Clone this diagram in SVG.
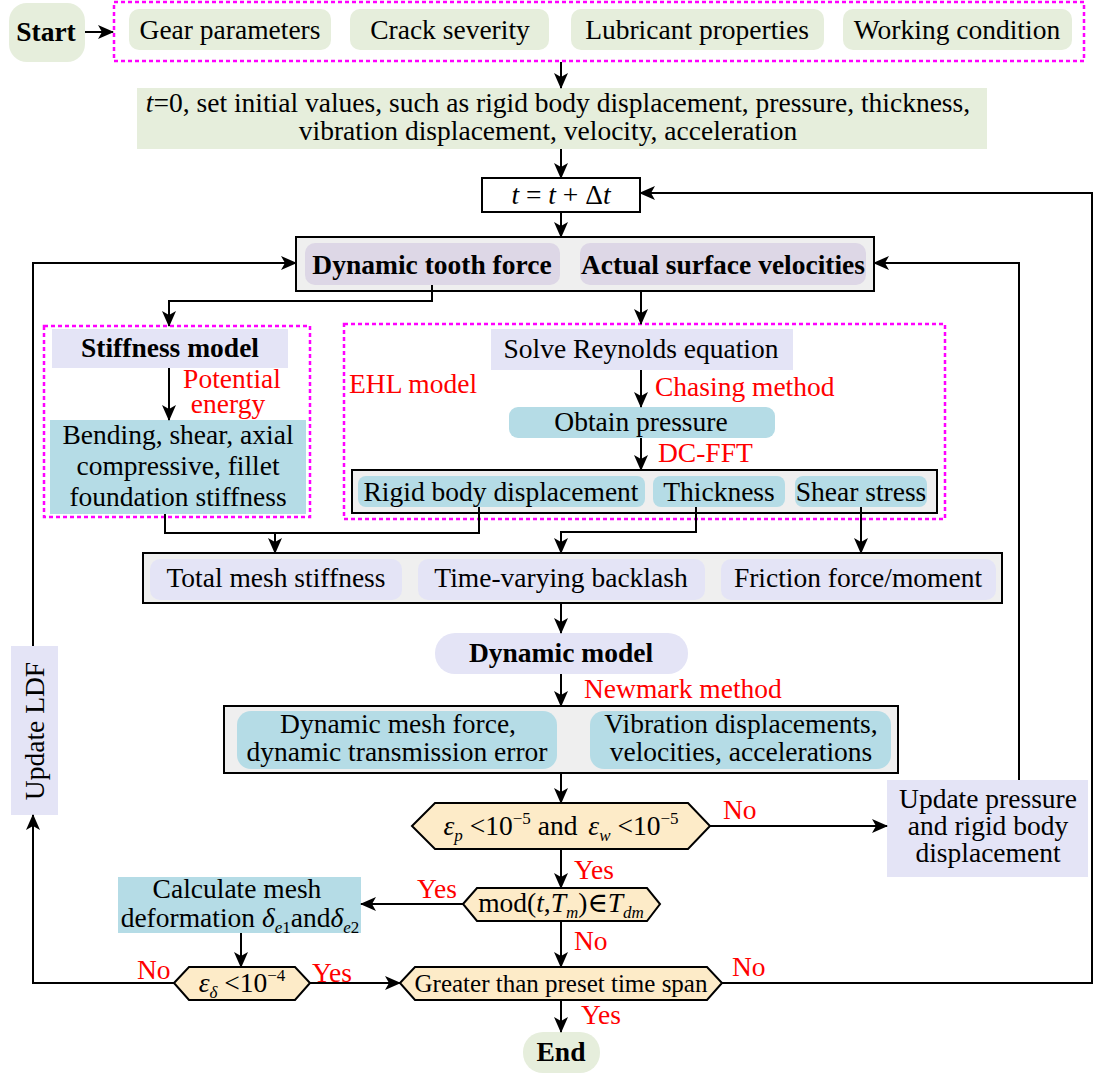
<svg xmlns="http://www.w3.org/2000/svg" width="1094" height="1075" viewBox="0 0 1094 1075" font-family="'Liberation Serif', Tinos, 'DejaVu Serif', serif">
<defs>
<marker id="ah" markerUnits="userSpaceOnUse" markerWidth="16" markerHeight="14" refX="15" refY="7" orient="auto">
<path d="M0,0 L16,7 L0,14 L4,7 Z" fill="#000"/>
</marker>
<style>
text{font-family:'Liberation Serif', Tinos, 'DejaVu Serif', serif;font-size:27.5px;fill:#000}
.b{font-weight:bold}
.r{fill:#ff0000}
.m{text-anchor:middle}
.i{font-style:italic}
.s{font-size:17px}
.grn{fill:#e6eedc}
.lav{fill:#e4e4f6}
.blu{fill:#b5dce6}
.pur{fill:#ddd7e6}
.pch{fill:#fdebc8;stroke:#000;stroke-width:2}
.out{fill:#efefef;stroke:#000;stroke-width:2}
.dash{fill:none;stroke:#ff00ff;stroke-width:2.5;stroke-dasharray:4 3}
.c{fill:none;stroke:#000;stroke-width:2;marker-end:url(#ah)}
.cn{fill:none;stroke:#000;stroke-width:2}
</style>
</defs>
<rect width="1094" height="1075" fill="#fff"/>

<g id="start"><rect x="9" y="3" width="76" height="59" rx="18" class="grn"/><text x="46" y="41" class="b m">Start</text></g>
<g id="inputs">
<rect x="114" y="2" width="970" height="59" class="dash"/>
<rect x="129" y="9" width="202" height="41" rx="10" class="grn"/><text x="230" y="39" class="m">Gear parameters</text>
<rect x="350" y="9" width="199" height="41" rx="10" class="grn"/><text x="450" y="39" class="m">Crack severity</text>
<rect x="571" y="9" width="253" height="41" rx="10" class="grn"/><text x="697" y="39" class="m">Lubricant properties</text>
<rect x="843" y="9" width="229" height="41" rx="10" class="grn"/><text x="957" y="39" class="m">Working condition</text>
</g>
<g id="init"><rect x="137" y="88" width="850" height="61" class="grn"/>
<text x="558" y="112" class="m"><tspan class="i">t</tspan>=0, set initial values, such as rigid body displacement, pressure, thickness,</text>
<text x="548" y="140" class="m">vibration displacement, velocity, acceleration</text></g>
<g id="tstep"><rect x="482" y="178" width="158" height="34" fill="#fff" stroke="#000" stroke-width="2"/>
<text x="561" y="204" class="m"><tspan class="i">t</tspan> = <tspan class="i">t</tspan> + Δ<tspan class="i">t</tspan></text></g>
<g id="force"><rect x="296" y="237" width="578" height="54" class="out"/>
<rect x="305" y="243" width="255" height="42" rx="10" class="pur"/><text x="432" y="274" class="b m">Dynamic tooth force</text>
<rect x="580" y="243" width="286" height="42" rx="10" class="pur"/><text x="723" y="274" class="b m">Actual surface velocities</text></g>

<g id="stiffness">
<rect x="44" y="326" width="266" height="191" class="dash"/>
<rect x="52" y="329" width="236" height="39" class="lav"/><text x="170" y="357" class="b m">Stiffness model</text>
<rect x="50" y="420" width="256" height="94" class="blu"/>
<text x="178" y="444" class="m">Bending, shear, axial</text>
<text x="178" y="475" class="m">compressive,  fillet</text>
<text x="178" y="506" class="m">foundation stiffness</text>
<text x="232" y="388" class="r m">Potential</text><text x="228" y="413" class="r m">energy</text>
</g>
<g id="ehl">
<rect x="344" y="324" width="601" height="195" class="dash"/>
<text x="349" y="393" class="r">EHL model</text>
<rect x="491" y="329" width="302" height="41" class="lav"/><text x="641" y="358" class="m">Solve Reynolds equation</text>
<text x="655" y="396" class="r">Chasing method</text>
<rect x="509" y="407" width="266" height="31" rx="9" class="blu"/><text x="641" y="431" class="m">Obtain pressure</text>
<text x="658" y="462" class="r">DC-FFT</text>
<rect x="352" y="470" width="585" height="43" class="out"/>
<rect x="358" y="476" width="287" height="31" rx="8" class="blu"/><text x="501" y="501" class="m">Rigid body displacement</text>
<rect x="653" y="476" width="132" height="31" rx="8" class="blu"/><text x="719" y="501" class="m">Thickness</text>
<rect x="795" y="476" width="132" height="31" rx="8" class="blu"/><text x="861" y="501" class="m">Shear stress</text>
</g>
<g id="params"><rect x="143" y="553" width="859" height="50" class="out"/>
<rect x="150" y="559" width="252" height="41" rx="10" class="lav"/><text x="276" y="587" class="m">Total mesh stiffness</text>
<rect x="418" y="559" width="287" height="41" rx="10" class="lav"/><text x="561" y="587" class="m">Time-varying backlash</text>
<rect x="721" y="559" width="275" height="41" rx="10" class="lav"/><text x="858" y="587" class="m">Friction force/moment</text></g>
<g id="dynmodel"><rect x="435" y="633" width="253" height="41" rx="20" class="lav"/><text x="561" y="662" class="b m">Dynamic model</text>
<text x="584" y="698" class="r">Newmark method</text></g>
<g id="results"><rect x="224" y="706" width="674" height="67" class="out"/>
<rect x="237" y="711" width="320" height="58" rx="14" class="blu"/>
<text x="398" y="733" class="m">Dynamic mesh force,</text><text x="397" y="761" class="m">dynamic transmission error</text>
<rect x="590" y="711" width="301" height="58" rx="14" class="blu"/>
<text x="741" y="733" class="m">Vibration displacements,</text><text x="741" y="761" class="m">velocities, accelerations</text></g>
<g id="ldf"><rect x="11" y="646" width="47" height="169" class="lav"/>
<text transform="translate(44,731) rotate(-90)" class="m">Update LDF</text></g>
<g id="conv"><path d="M412,826 L435,803 L688,803 L710,826 L688,849 L435,849 Z" class="pch"/>
<text x="561" y="835" class="m"><tspan class="i">ε</tspan><tspan class="i s" dy="6">p</tspan><tspan dy="-6"> &lt;10</tspan><tspan class="s" dy="-11">−5</tspan><tspan dy="11"> and  </tspan><tspan class="i" dx="4">ε</tspan><tspan class="i s" dy="6">w</tspan><tspan dy="-6"> &lt;10</tspan><tspan class="s" dy="-11">−5</tspan></text></g>
<g id="updp"><rect x="887" y="780" width="201" height="97" class="lav"/>
<text x="988" y="808" class="m">Update pressure</text><text x="988" y="835" class="m">and rigid body</text><text x="988" y="862" class="m">displacement</text></g>
<g id="mod"><path d="M463,904 L477,888 L647,888 L660,904 L647,921 L477,921 Z" class="pch"/>
<text x="561" y="912" class="m">mod(<tspan class="i">t</tspan>,<tspan class="i">T</tspan><tspan class="i s" dy="6">m</tspan><tspan dy="-6">)∈</tspan><tspan class="i">T</tspan><tspan class="i s" dy="6">dm</tspan></text></g>
<g id="calc"><rect x="118" y="877" width="243" height="56" class="blu"/>
<text x="237" y="898" class="m">Calculate mesh</text>
<text x="240" y="927" class="m">deformation <tspan class="i">δ</tspan><tspan class="i s" dy="6">e</tspan><tspan class="s">1</tspan><tspan dy="-6">and</tspan><tspan class="i">δ</tspan><tspan class="i s" dy="6">e</tspan><tspan class="s">2</tspan></text></g>
<g id="defconv"><path d="M174,983 L189,967 L295,967 L310,983 L295,1000 L189,1000 Z" class="pch"/>
<text x="242" y="992" class="m"><tspan class="i">ε</tspan><tspan class="i s" dy="6">δ</tspan><tspan dy="-6"> &lt;10</tspan><tspan class="s" dy="-11">−4</tspan></text></g>
<g id="timespan"><path d="M400,983 L415,967 L707,967 L722,983 L707,1000 L415,1000 Z" class="pch"/>
<text x="561" y="992" class="m" font-size="25" style="font-size:25px">Greater than preset time span</text></g>
<g id="end"><rect x="523" y="1032" width="77" height="41" rx="20" class="grn"/><text x="561" y="1061" class="b m">End</text></g>

<g id="connectors">
<path d="M85,32 L113,32" class="c"/>
<path d="M561,62 L561,88" class="c"/>
<path d="M561,149 L561,178" class="c"/>
<path d="M561,212 L561,237" class="c"/>
<path d="M432,285 L432,301 L169,301 L169,326" class="c"/>
<path d="M641,291 L641,324" class="c"/>
<path d="M169,368 L169,420" class="c"/>
<path d="M641,370 L641,407" class="c"/>
<path d="M641,438 L641,470" class="c"/>
<path d="M165,514 L165,533 L479,533 L479,507" class="cn"/>
<path d="M275,533 L275,553" class="c"/>
<path d="M696,507 L696,532 L561,532 L561,553" class="c"/>
<path d="M861,507 L861,553" class="c"/>
<path d="M561,603 L561,633" class="c"/>
<path d="M561,674 L561,706" class="c"/>
<path d="M561,773 L561,803" class="c"/>
<path d="M710,826 L887,826" class="c"/>
<path d="M1019,780 L1019,263 L874,263" class="c"/>
<path d="M33,646 L33,263 L296,263" class="c"/>
<path d="M561,849 L561,888" class="c"/>
<path d="M463,904 L361,904" class="c"/>
<path d="M241,933 L241,967" class="c"/>
<path d="M174,983 L33,983 L33,815" class="c"/>
<path d="M310,983 L400,983" class="c"/>
<path d="M561,921 L561,967" class="c"/>
<path d="M561,1000 L561,1032" class="c"/>
<path d="M722,983 L1092,983 L1092,193 L640,193" class="c"/>
</g>
<g id="labels">
<text x="723" y="819" class="r">No</text>
<text x="574" y="879" class="r">Yes</text>
<text x="417" y="898" class="r">Yes</text>
<text x="574" y="950" class="r">No</text>
<text x="137" y="979" class="r">No</text>
<text x="312" y="982" class="r">Yes</text>
<text x="732" y="976" class="r">No</text>
<text x="581" y="1024" class="r">Yes</text>
</g>
</svg>
